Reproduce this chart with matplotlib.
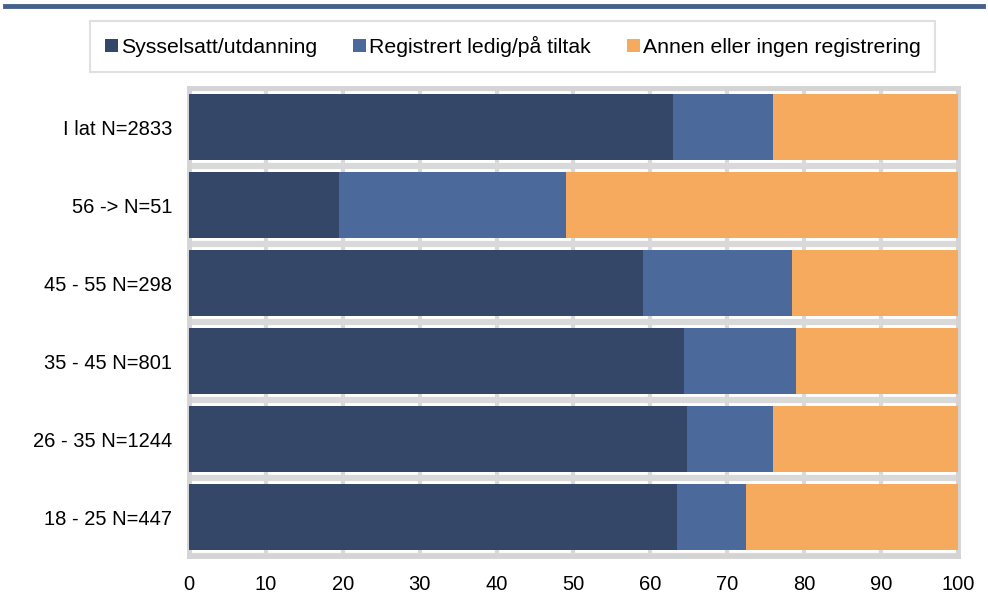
import numpy as np
import matplotlib.pyplot as plt
from matplotlib.lines import Line2D

plt.rcParams['font.family'] = ['Liberation Sans', 'DejaVu Sans']

# data (percent), top row first
labels = ['I lat N=2833', '56 -> N=51', '45 - 55 N=298', '35 - 45 N=801',
          '26 - 35 N=1244', '18 - 25 N=447']
sysselsatt = [63.0, 19.5, 59.0, 64.4, 64.8, 63.5]
registrert = [13.0, 29.5, 19.4, 14.5, 11.2, 8.9]
annen = [24.0, 51.0, 21.6, 21.1, 24.0, 27.6]
series_names = ['Sysselsatt/utdanning', 'Registrert ledig/på tiltak',
                'Annen eller ingen registrering']
colors = ['#344769', '#4b6a9b', '#f6aa5e']

fig = plt.figure(figsize=(9.88, 6.12), dpi=100)
ax = fig.add_axes([0.1913, 0.0915, 0.7783, 0.7647])

y = np.arange(len(labels))
left = np.zeros(len(labels))
for vals, col, name in zip([sysselsatt, registrert, annen], colors, series_names):
    ax.barh(y, vals, left=left, height=0.84, color=col, label=name, zorder=3)
    left += np.array(vals)

ax.set_xlim(0, 100)
ax.set_ylim(len(labels) - 0.5, -0.5)
ax.set_xticks(np.arange(0, 101, 10))
ax.set_yticks(y)
ax.set_yticklabels(labels)
ax.set_yticks(np.arange(-0.5, len(labels), 1), minor=True)
ax.tick_params(axis='both', length=0)
ax.tick_params(axis='x', pad=14, labelsize=14.5)
ax.tick_params(axis='y', pad=12, labelsize=14.5)
ax.tick_params(which='minor', length=0)

ax.grid(axis='x', color='#d9d9d9', linewidth=3, zorder=0)
ax.grid(axis='y', which='minor', color='#d9d9d9', linewidth=4.5, zorder=0)
for s in ax.spines.values():
    s.set_color('#d4d4d4')
    s.set_linewidth(3.5)

# top rule
fig.add_artist(Line2D([0.005, 0.995], [0.99, 0.99], color='#46608c',
                      linewidth=3.5, transform=fig.transFigure))

handles, lbls = ax.get_legend_handles_labels()
leg = fig.legend(handles, lbls, loc='center', bbox_to_anchor=(0.519, 0.924),
                 ncol=3, fontsize=15.3, frameon=True, fancybox=False,
                 handlelength=0.6, handleheight=0.6, handletextpad=0.15,
                 columnspacing=1.7, borderpad=0.7)
leg.get_frame().set_edgecolor('#d9d9d9')
leg.get_frame().set_linewidth(1.5)

fig.savefig('out.png', dpi=100)
